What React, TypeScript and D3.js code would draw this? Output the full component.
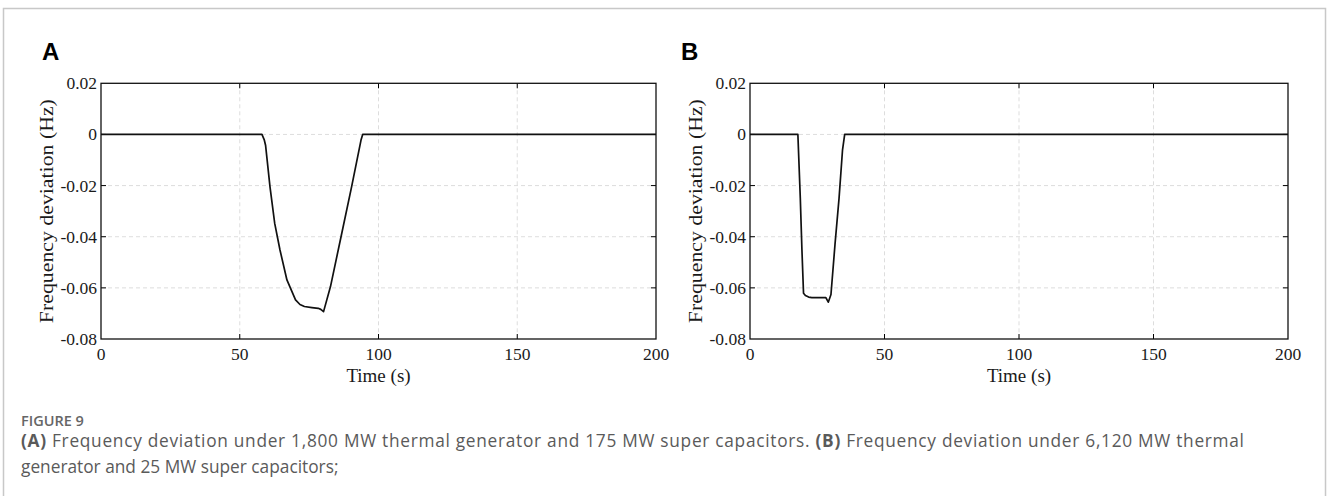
import React from "react";
import * as d3 from "d3";

const timeA = [0, 58, 58.8, 59.3, 60.9, 62.6, 64.5, 67.0, 70.1, 71.7, 73.3, 76.0, 78.3, 79.2, 80.2, 82.7, 86.5, 90.3, 93.7, 94.3, 200];
const freqA = [0, 0, -0.002, -0.0042, -0.0205, -0.0348, -0.0452, -0.0569, -0.0647, -0.0665, -0.0673, -0.0677, -0.068, -0.0684, -0.0693, -0.0595, -0.040, -0.0205, -0.0022, 0, 0];

const timeB = [0, 17.8, 18.7, 19.3, 19.9, 20.6, 21.8, 23.0, 28.2, 29.1, 30.1, 31.6, 33.1, 34.4, 35.2, 200];
const freqB = [0, 0, -0.025, -0.045, -0.0621, -0.063, -0.0636, -0.0638, -0.0638, -0.0656, -0.0626, -0.043, -0.025, -0.006, 0, 0];

const xTicks = [0, 50, 100, 150, 200];
const yTicks = [0.02, 0, -0.02, -0.04, -0.06, -0.08];
const yTickLabels = ["0.02", "0", "-0.02", "-0.04", "-0.06", "-0.08"];

const panelLetters = ["A", "B"];
const xTitle = "Time (s)";
const yTitle = "Frequency deviation (Hz)";

const W = 1327;
const H = 496;
const TOP = 83.3;
const BOTTOM = 339;

const panels = [
  { letter: panelLetters[0], left: 101, right: 656, t: timeA, v: freqA, letterX: 42 },
  { letter: panelLetters[1], left: 750, right: 1288, t: timeB, v: freqB, letterX: 681 },
];

const serif = "'Liberation Serif', 'Times New Roman', serif";
const sans = "'Liberation Sans', Arial, sans-serif";
const capFont = "'Open Sans', 'Noto Sans', sans-serif";

function Panel({ p }: { p: typeof panels[number] }) {
  const x = d3.scaleLinear().domain([0, 200]).range([p.left, p.right]);
  const y = d3.scaleLinear().domain([-0.08, 0.02]).range([BOTTOM, TOP]);
  const pts: [number, number][] = p.t.map((t, i) => [t, p.v[i]]);
  const line = d3
    .line<[number, number]>()
    .x((d) => x(d[0]))
    .y((d) => y(d[1]))
    .curve(d3.curveLinear);
  const tickLen = 5;
  return (
    <g>
      {xTicks.slice(1, -1).map((t) => (
        <line key={"gx" + t} x1={x(t)} x2={x(t)} y1={TOP} y2={BOTTOM} stroke="#d9d9d9" strokeWidth={0.9} strokeDasharray="4,3" />
      ))}
      {yTicks.slice(1, -1).map((t) => (
        <line key={"gy" + t} x1={p.left} x2={p.right} y1={y(t)} y2={y(t)} stroke="#d9d9d9" strokeWidth={0.9} strokeDasharray="4,3" />
      ))}
      {xTicks.slice(1, -1).map((t) => (
        <g key={"tx" + t}>
          <line x1={x(t)} x2={x(t)} y1={BOTTOM} y2={BOTTOM - tickLen} stroke="#000" strokeWidth={1} />
          <line x1={x(t)} x2={x(t)} y1={TOP} y2={TOP + tickLen} stroke="#000" strokeWidth={1} />
        </g>
      ))}
      {yTicks.slice(1, -1).map((t) => (
        <g key={"ty" + t}>
          <line x1={p.left} x2={p.left + tickLen} y1={y(t)} y2={y(t)} stroke="#000" strokeWidth={1} />
          <line x1={p.right} x2={p.right - tickLen} y1={y(t)} y2={y(t)} stroke="#000" strokeWidth={1} />
        </g>
      ))}
      <path d={line(pts) || ""} fill="none" stroke="#111" strokeWidth={1.7} strokeLinejoin="round" />
      <rect x={p.left} y={TOP} width={p.right - p.left} height={BOTTOM - TOP} fill="none" stroke="#111" strokeWidth={1.3} />
      {xTicks.map((t) => (
        <text key={"lx" + t} x={x(t)} y={360} textAnchor="middle" fontFamily={serif} fontSize={17.5} fill="#1a1a1a">
          {String(t)}
        </text>
      ))}
      {yTicks.map((t, i) => (
        <text key={"ly" + t} x={p.left - 4} y={y(t)} dy="0.34em" textAnchor="end" fontFamily={serif} fontSize={17.5} fill="#1a1a1a">
          {yTickLabels[i]}
        </text>
      ))}
      <text x={(p.left + p.right) / 2} y={382} textAnchor="middle" fontFamily={serif} fontSize={19} fill="#1a1a1a">
        {xTitle}
      </text>
      <text
        transform={`translate(${p.left - 55},${(TOP + BOTTOM) / 2}) rotate(-90)`}
        dy="0.35em"
        textAnchor="middle"
        fontFamily={serif}
        fontSize={19.5}
        fill="#1a1a1a"
        textLength={224}
        lengthAdjust="spacingAndGlyphs"
      >
        {yTitle}
      </text>
      <text x={p.letterX} y={60} fontFamily={sans} fontWeight="bold" fontSize={24} fill="#000">
        {p.letter}
      </text>
    </g>
  );
}

export default function App() {
  return (
    <div style={{ position: "absolute", left: 0, top: 0 }}>
      <svg width={W} height={H} viewBox={`0 0 ${W} ${H}`} style={{ display: "block", background: "#fff" }}>
        <rect x={3.5} y={8.5} width={1322} height={520} fill="#fff" stroke="#c8c8c8" strokeWidth={1.5} />
        {panels.map((p) => (
          <Panel key={p.letter} p={p} />
        ))}
        <text x={21} y={426} fontFamily={capFont} fontSize={14.5} fontWeight={600} fill="#666">
          FIGURE 9
        </text>
        <text x={21} y={447} fontFamily={capFont} fontSize={17.3} fill="#5a5a5a" textLength={1223} lengthAdjust="spacing">
          <tspan fontWeight={700}>(A)</tspan> Frequency deviation under 1,800 MW thermal generator and 175 MW super capacitors.{" "}
          <tspan fontWeight={700}>(B)</tspan> Frequency deviation under 6,120 MW thermal
        </text>
        <text x={21} y={473} fontFamily={capFont} fontSize={17.3} fill="#5a5a5a">
          generator and 25 MW super capacitors;
        </text>
      </svg>
    </div>
  );
}
